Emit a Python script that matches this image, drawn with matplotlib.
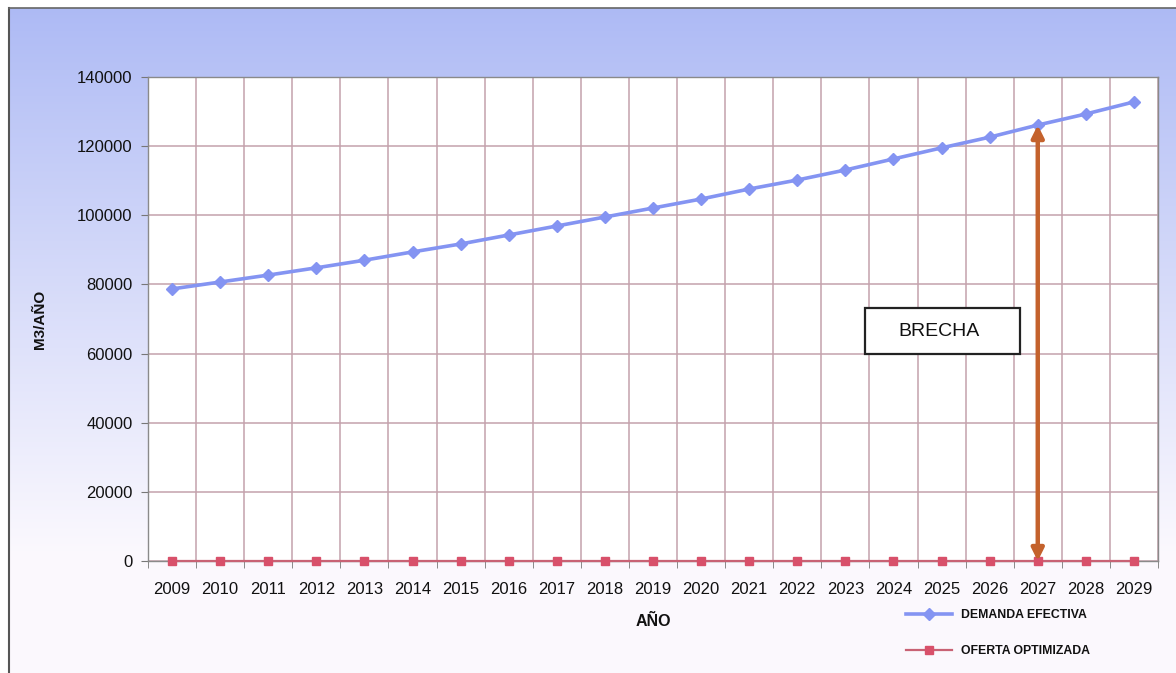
import numpy as np
import matplotlib
matplotlib.use("Agg")
import matplotlib.pyplot as plt
from matplotlib.lines import Line2D
from matplotlib.patches import Rectangle

# ── data ─────────────────────────────────────────────────────────────────────
years = [str(y) for y in range(2009, 2030)]
demanda_efectiva = [78700, 80700, 82700, 84800, 87000, 89400, 91700, 94300,
                    96900, 99500, 102100, 104700, 107600, 110200, 113100,
                    116300, 119500, 122600, 126100, 129300, 132800]
oferta_optimizada = [0] * 21
y_ticks = [0, 20000, 40000, 60000, 80000, 100000, 120000, 140000]
brecha_year = "2027"

BLUE = "#8494f2"
RED = "#d8506a"
RED_LINE = "#c86274"
ARROW = "#c4622c"
GRID = "#c4a2ac"
TEXT = "#111111"

plt.rcParams["font.family"] = ["Liberation Sans", "DejaVu Sans"]

fig = plt.figure(figsize=(11.76, 6.73), dpi=100)
fig.patch.set_facecolor("white")

# panel background: blue at the top fading to near white
bg = fig.add_axes([8 / 1176, 0, 1 - 8 / 1176, 1 - 8 / 673], zorder=-10)
grad = np.linspace(0, 1, 256)[:, None]
top = np.array([0.68, 0.73, 0.96])
bot = np.array([0.985, 0.975, 0.995])
t = np.clip(grad / 0.82, 0, 1) ** 0.95
img = top * (1 - t)[..., None] + bot * t[..., None]
bg.imshow(img, aspect="auto", extent=[0, 1, 0, 1], origin="upper")
bg.set_axis_off()
fig.add_artist(Line2D([9 / 1176, 9 / 1176], [0, 1 - 8 / 673], color="#555555", lw=1.5))
fig.add_artist(Line2D([9 / 1176, 1], [1 - 8 / 673, 1 - 8 / 673], color="#666666", lw=1.2))

ax = fig.add_axes([148 / 1176, 1 - 561 / 673, (1158 - 148) / 1176, (561 - 77) / 673])
ax.set_facecolor("white")

x = np.arange(len(years))
ax.plot(x, demanda_efectiva, color=BLUE, lw=2.6, marker="D", ms=6.5,
        mfc=BLUE, mec=BLUE, label="DEMANDA EFECTIVA", zorder=4)
ax.plot(x, oferta_optimizada, color=RED_LINE, lw=1.6, marker="s", ms=6,
        mfc=RED, mec=RED, label="OFERTA OPTIMIZADA", zorder=4, clip_on=False)

ax.set_xlim(-0.5, len(years) - 0.5)
ax.set_ylim(0, 140000)
ax.set_yticks(y_ticks)
ax.set_yticklabels([str(v) for v in y_ticks], fontsize=12, color=TEXT)
ax.set_xticks(x)
ax.set_xticklabels(years, fontsize=12, color=TEXT)
ax.set_xticks(np.arange(-0.5, len(years)), minor=True)
ax.tick_params(axis="x", which="major", length=0, pad=15)
ax.tick_params(axis="x", which="minor", length=5, color="#777777", direction="out")
ax.tick_params(axis="y", which="major", length=5, color="#777777", pad=6)
ax.grid(True, axis="y", which="major", color=GRID, lw=1.1)
ax.grid(True, axis="x", which="minor", color=GRID, lw=1.1)
for s in ax.spines.values():
    s.set_color("#8a8a8a")
    s.set_linewidth(1.0)

ax.set_xlabel("AÑO", fontsize=11.5, fontweight="bold", color=TEXT, labelpad=12)
ax.set_ylabel("M3/AÑO", fontsize=11, fontweight="bold", color=TEXT, labelpad=22)

# gap arrow between demand and supply
i = years.index(brecha_year)
ax.annotate("", xy=(i, oferta_optimizada[i]), xytext=(i, demanda_efectiva[i]),
            arrowprops=dict(arrowstyle="<|-|>", color=ARROW, lw=3.2,
                            mutation_scale=18, shrinkA=0, shrinkB=0),
            zorder=5)

# BRECHA label box
ax.add_patch(Rectangle((14.41, 59900), 3.22, 13300, facecolor="white",
                       edgecolor="#222222", lw=1.6, zorder=6))
ax.text(15.95, 66500, "BRECHA", fontsize=14, color=TEXT, ha="center",
        va="center", zorder=7)

fig.legend(loc="upper left", bbox_to_anchor=(895 / 1176, 1 - 598 / 673),
           frameon=False, handlelength=3.8, labelspacing=2.0, handletextpad=0.7,
           prop={"size": 8.8, "weight": "bold"}, labelcolor=TEXT)

fig.savefig("out.png", dpi=100, facecolor="white")
